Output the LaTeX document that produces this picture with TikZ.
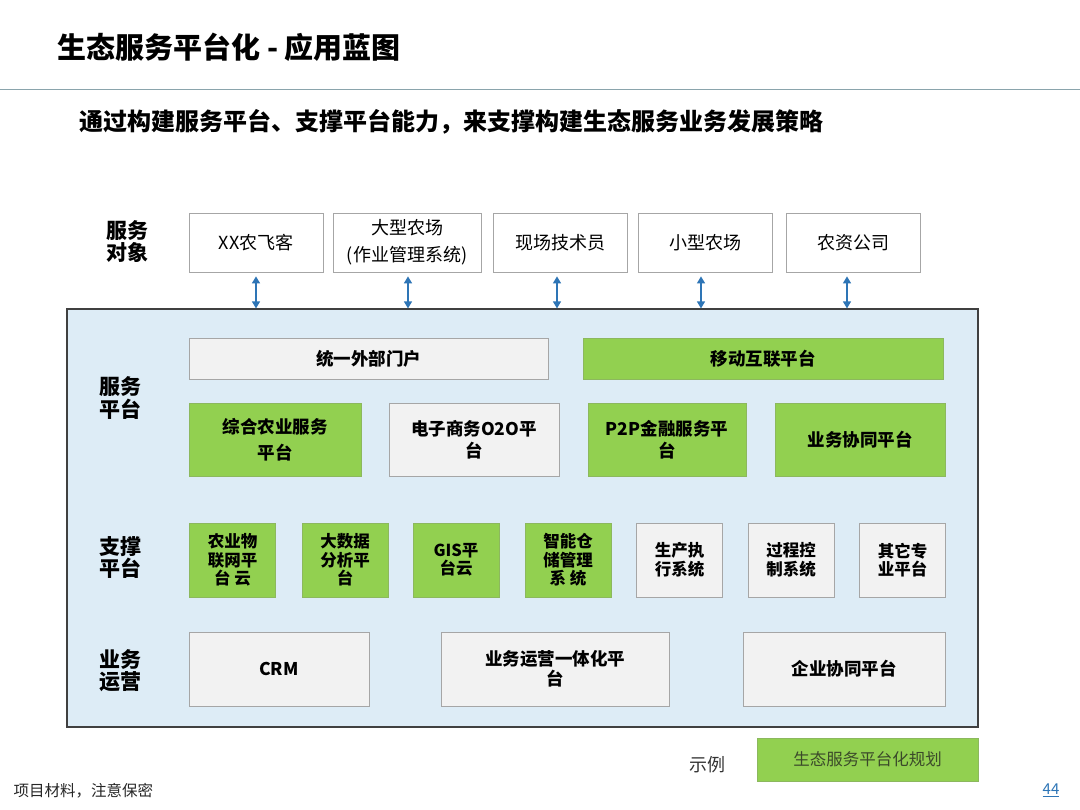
\documentclass[tikz,border=0pt]{standalone}
\usepackage{fontspec}
\setmainfont{Noto Sans CJK SC}
\usetikzlibrary{arrows.meta}
\definecolor{gfill}{HTML}{92D050}
\definecolor{lgray}{HTML}{F2F2F2}
\definecolor{bgray}{HTML}{A6A6A6}
\definecolor{cblue}{HTML}{DDECF6}
\definecolor{arrblue}{HTML}{2E75B6}
\definecolor{rulec}{HTML}{8AA4AC}
\definecolor{legtxt}{HTML}{3B4A2A}
\tikzset{
  x=1pt,y=-1pt,
  box/.style={draw=bgray,line width=0.8pt,align=center,inner sep=2pt,font=\fontsize{17.5}{22}\selectfont\bfseries},
  gbox/.style={box,fill=gfill,draw=gfill!70!gray},
  wbox/.style={box,fill=lgray},
  obox/.style={draw=bgray,line width=0.8pt,fill=white,align=center,font=\fontsize{18}{27}\selectfont},
  sbox/.style={box,font=\fontsize{16.5}{18.5}\selectfont\bfseries,minimum width=86,minimum height=74},
  lab/.style={align=center,font=\fontsize{21}{22}\selectfont\bfseries},
  biarrow/.style={arrblue,line width=1.4pt,{Triangle[length=7pt,width=8pt]}-{Triangle[length=7pt,width=8pt]}}
}
\begin{document}
\begin{tikzpicture}
\useasboundingbox (0,0) rectangle (1080,810);
\fill[white] (0,0) rectangle (1080,810);
% title
\node[anchor=west,font=\fontsize{29}{32}\selectfont\bfseries] (title) at (54,47) {生态服务平台化 - 应用蓝图};
\draw[rulec,line width=1pt] (0,90) -- (1080,90);
\node[anchor=west,font=\fontsize{24}{26}\selectfont\bfseries] (sub) at (76,122) {通过构建服务平台、支撑平台能力，来支撑构建生态服务业务发展策略};
% container
\node[draw=black!75,line width=1.2pt,fill=cblue,minimum width=911,minimum height=418,inner sep=0] (cont) at (522.5,518) {};
% service objects
\node[lab] (l0) at (127,242) {服务\\对象};
\node[obox,minimum width=134,minimum height=59] (o1) at (256,242.5) {XX农飞客};
\node[obox,minimum width=148,minimum height=59] (o2) at (407,242.5) {大型农场\\(作业管理系统)};
\node[obox,minimum width=134,minimum height=59] (o3) at (560,242.5) {现场技术员};
\node[obox,minimum width=134,minimum height=59] (o4) at (705,242.5) {小型农场};
\node[obox,minimum width=134,minimum height=59] (o5) at (853,242.5) {农资公司};
\foreach \n/\dx in {o1/0,o2/1,o3/-3,o4/-4,o5/-6}{
  \draw[biarrow] ([xshift=\dx,yshift=-4]\n.south) -- ([xshift=\dx]\n.south |- cont.north);
}
% service platform
\node[lab] (l1) at (120,398) {服务\\平台};
\node[wbox,minimum width=359,minimum height=41] (portal) at (368.5,358.5) {统一外部门户};
\node[gbox,minimum width=360,minimum height=41] (mobile) at (763,358.5) {移动互联平台};
\node[gbox,minimum width=172,minimum height=73,font=\fontsize{17.5}{26}\selectfont\bfseries] (s1) at (275,439.5) {综合农业服务\\平台};
\node[wbox,minimum width=170,minimum height=73] (s2) at (474,439.5) {电子商务O2O平\\台};
\node[gbox,minimum width=158,minimum height=73] (s3) at (667,439.5) {P2P金融服务平\\台};
\node[gbox,minimum width=170,minimum height=73] (s4) at (860,439.5) {业务协同平台};
% support platform
\node[lab] (l2) at (120,558) {支撑\\平台};
\node[sbox,fill=gfill,draw=gfill!70!gray] (p1) at (232.5,560) {农业物\\联网平\\台 云};
\node[sbox,fill=gfill,draw=gfill!70!gray] (p2) at (345,560) {大数据\\分析平\\台};
\node[sbox,fill=gfill,draw=gfill!70!gray] (p3) at (456,560) {GIS平\\台云};
\node[sbox,fill=gfill,draw=gfill!70!gray] (p4) at (568,560) {智能仓\\储管理\\系 统};
\node[sbox,fill=lgray] (p5) at (679.5,560) {生产执\\行系统};
\node[sbox,fill=lgray] (p6) at (791,560) {过程控\\制系统};
\node[sbox,fill=lgray] (p7) at (902.5,560) {其它专\\业平台};
% business ops
\node[lab] (l3) at (120,671) {业务\\运营};
\node[wbox,minimum width=180,minimum height=74,font=\fontsize{17.5}{20}\selectfont\bfseries] (b1) at (279,669) {CRM};
\node[wbox,minimum width=228,minimum height=74,font=\fontsize{17.5}{20}\selectfont\bfseries] (b2) at (555,669) {业务运营一体化平\\台};
\node[wbox,minimum width=202,minimum height=74] (b3) at (844,669) {企业协同平台};
% legend
\node[font=\fontsize{18}{20}\selectfont,text=black!80] (ex) at (707,765) {示例};
\node[draw=gfill!70!gray,fill=gfill,line width=0.8pt,minimum width=221,minimum height=43,font=\fontsize{16.5}{18}\selectfont,text=legtxt] (leg) at (867.5,759.5) {生态服务平台化规划};
% footer
\node[anchor=west,font=\fontsize{15.5}{17}\selectfont,text=black!85] (foot) at (10,791) {项目材料，注意保密};
\node[font=\fontsize{15}{17}\selectfont,text=arrblue] (pg) at (1051,790) {\underline{44}};
\end{tikzpicture}
\end{document}
